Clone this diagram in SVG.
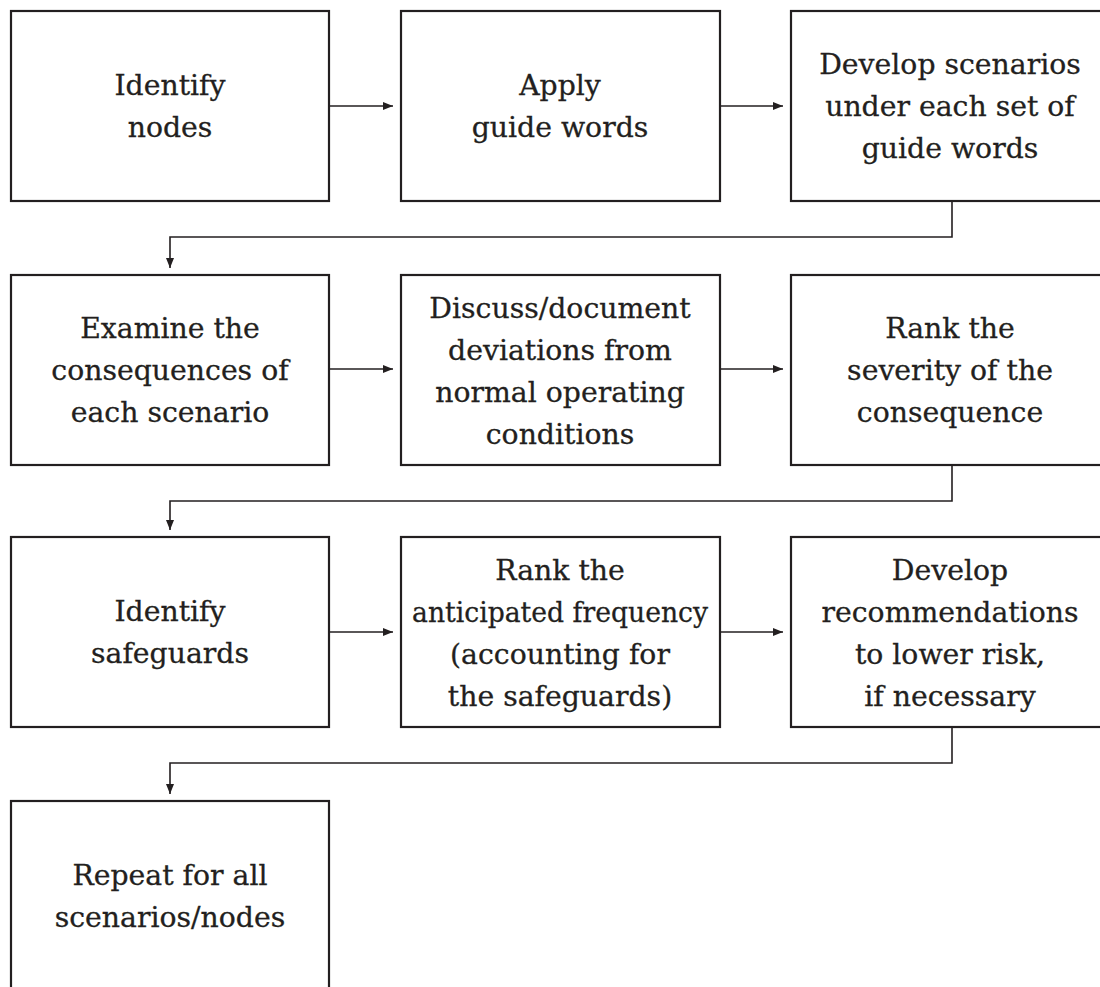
<svg xmlns="http://www.w3.org/2000/svg" width="1100" height="987" viewBox="0 0 1100 987">
<style>
.box{fill:#fff;stroke:#231f20;stroke-width:2.2}
.lbl{font-family:"DejaVu Serif","Liberation Serif",serif;font-size:28.3px;fill:#231f20;stroke:#231f20;stroke-width:0.3;text-anchor:middle}
.con{fill:none;stroke:#231f20;stroke-width:1.6}
</style>
<defs>
<marker id="ah" markerUnits="userSpaceOnUse" markerWidth="11" markerHeight="9" refX="10" refY="4" orient="auto">
<path d="M0,0 L10,4 L0,8 Z" fill="#231f20"/>
</marker>
</defs>
<rect width="1100" height="987" fill="#fff"/>
<g id="connectors">
<path class="con" d="M329,106 H393" marker-end="url(#ah)"/>
<path class="con" d="M720,106 H783" marker-end="url(#ah)"/>
<path class="con" d="M952,201 V237 H170 V268" marker-end="url(#ah)"/>
<path class="con" d="M329,369 H393" marker-end="url(#ah)"/>
<path class="con" d="M720,369 H783" marker-end="url(#ah)"/>
<path class="con" d="M952,465 V501 H170 V530" marker-end="url(#ah)"/>
<path class="con" d="M329,632 H393" marker-end="url(#ah)"/>
<path class="con" d="M720,632 H783" marker-end="url(#ah)"/>
<path class="con" d="M952,727 V763 H170 V794" marker-end="url(#ah)"/>
</g>
<g id="n1"><rect class="box" x="11" y="11" width="318" height="190"/>
<text class="lbl" x="170"><tspan x="170" y="95">Identify</tspan><tspan x="170" y="137">nodes</tspan></text></g>
<g id="n2"><rect class="box" x="401" y="11" width="319" height="190"/>
<text class="lbl" x="560"><tspan x="560" y="95">Apply</tspan><tspan x="560" y="137">guide words</tspan></text></g>
<g id="n3"><rect class="box" x="791" y="11" width="319" height="190"/>
<text class="lbl" x="950"><tspan x="950" y="74">Develop scenarios</tspan><tspan x="950" y="116">under each set of</tspan><tspan x="950" y="158">guide words</tspan></text></g>
<g id="n4"><rect class="box" x="11" y="275" width="318" height="190"/>
<text class="lbl" x="170"><tspan x="170" y="338">Examine the</tspan><tspan x="170" y="380">consequences of</tspan><tspan x="170" y="422">each scenario</tspan></text></g>
<g id="n5"><rect class="box" x="401" y="275" width="319" height="190"/>
<text class="lbl" x="560"><tspan x="560" y="318">Discuss/document</tspan><tspan x="560" y="360">deviations from</tspan><tspan x="560" y="402">normal operating</tspan><tspan x="560" y="444">conditions</tspan></text></g>
<g id="n6"><rect class="box" x="791" y="275" width="319" height="190"/>
<text class="lbl" x="950"><tspan x="950" y="338">Rank the</tspan><tspan x="950" y="380">severity of the</tspan><tspan x="950" y="422">consequence</tspan></text></g>
<g id="n7"><rect class="box" x="11" y="537" width="318" height="190"/>
<text class="lbl" x="170"><tspan x="170" y="621">Identify</tspan><tspan x="170" y="663">safeguards</tspan></text></g>
<g id="n8"><rect class="box" x="401" y="537" width="319" height="190"/>
<text class="lbl" x="560"><tspan x="560" y="580">Rank the</tspan><tspan x="412" y="622" text-anchor="start" textLength="296" lengthAdjust="spacingAndGlyphs">anticipated frequency</tspan><tspan x="560" y="664">(accounting for</tspan><tspan x="560" y="706">the safeguards)</tspan></text></g>
<g id="n9"><rect class="box" x="791" y="537" width="319" height="190"/>
<text class="lbl" x="950"><tspan x="950" y="580">Develop</tspan><tspan x="950" y="622">recommendations</tspan><tspan x="950" y="664">to lower risk,</tspan><tspan x="950" y="706">if necessary</tspan></text></g>
<g id="n10"><rect class="box" x="11" y="801" width="318" height="200"/>
<text class="lbl" x="170"><tspan x="170" y="885">Repeat for all</tspan><tspan x="170" y="927">scenarios/nodes</tspan></text></g>
</svg>
